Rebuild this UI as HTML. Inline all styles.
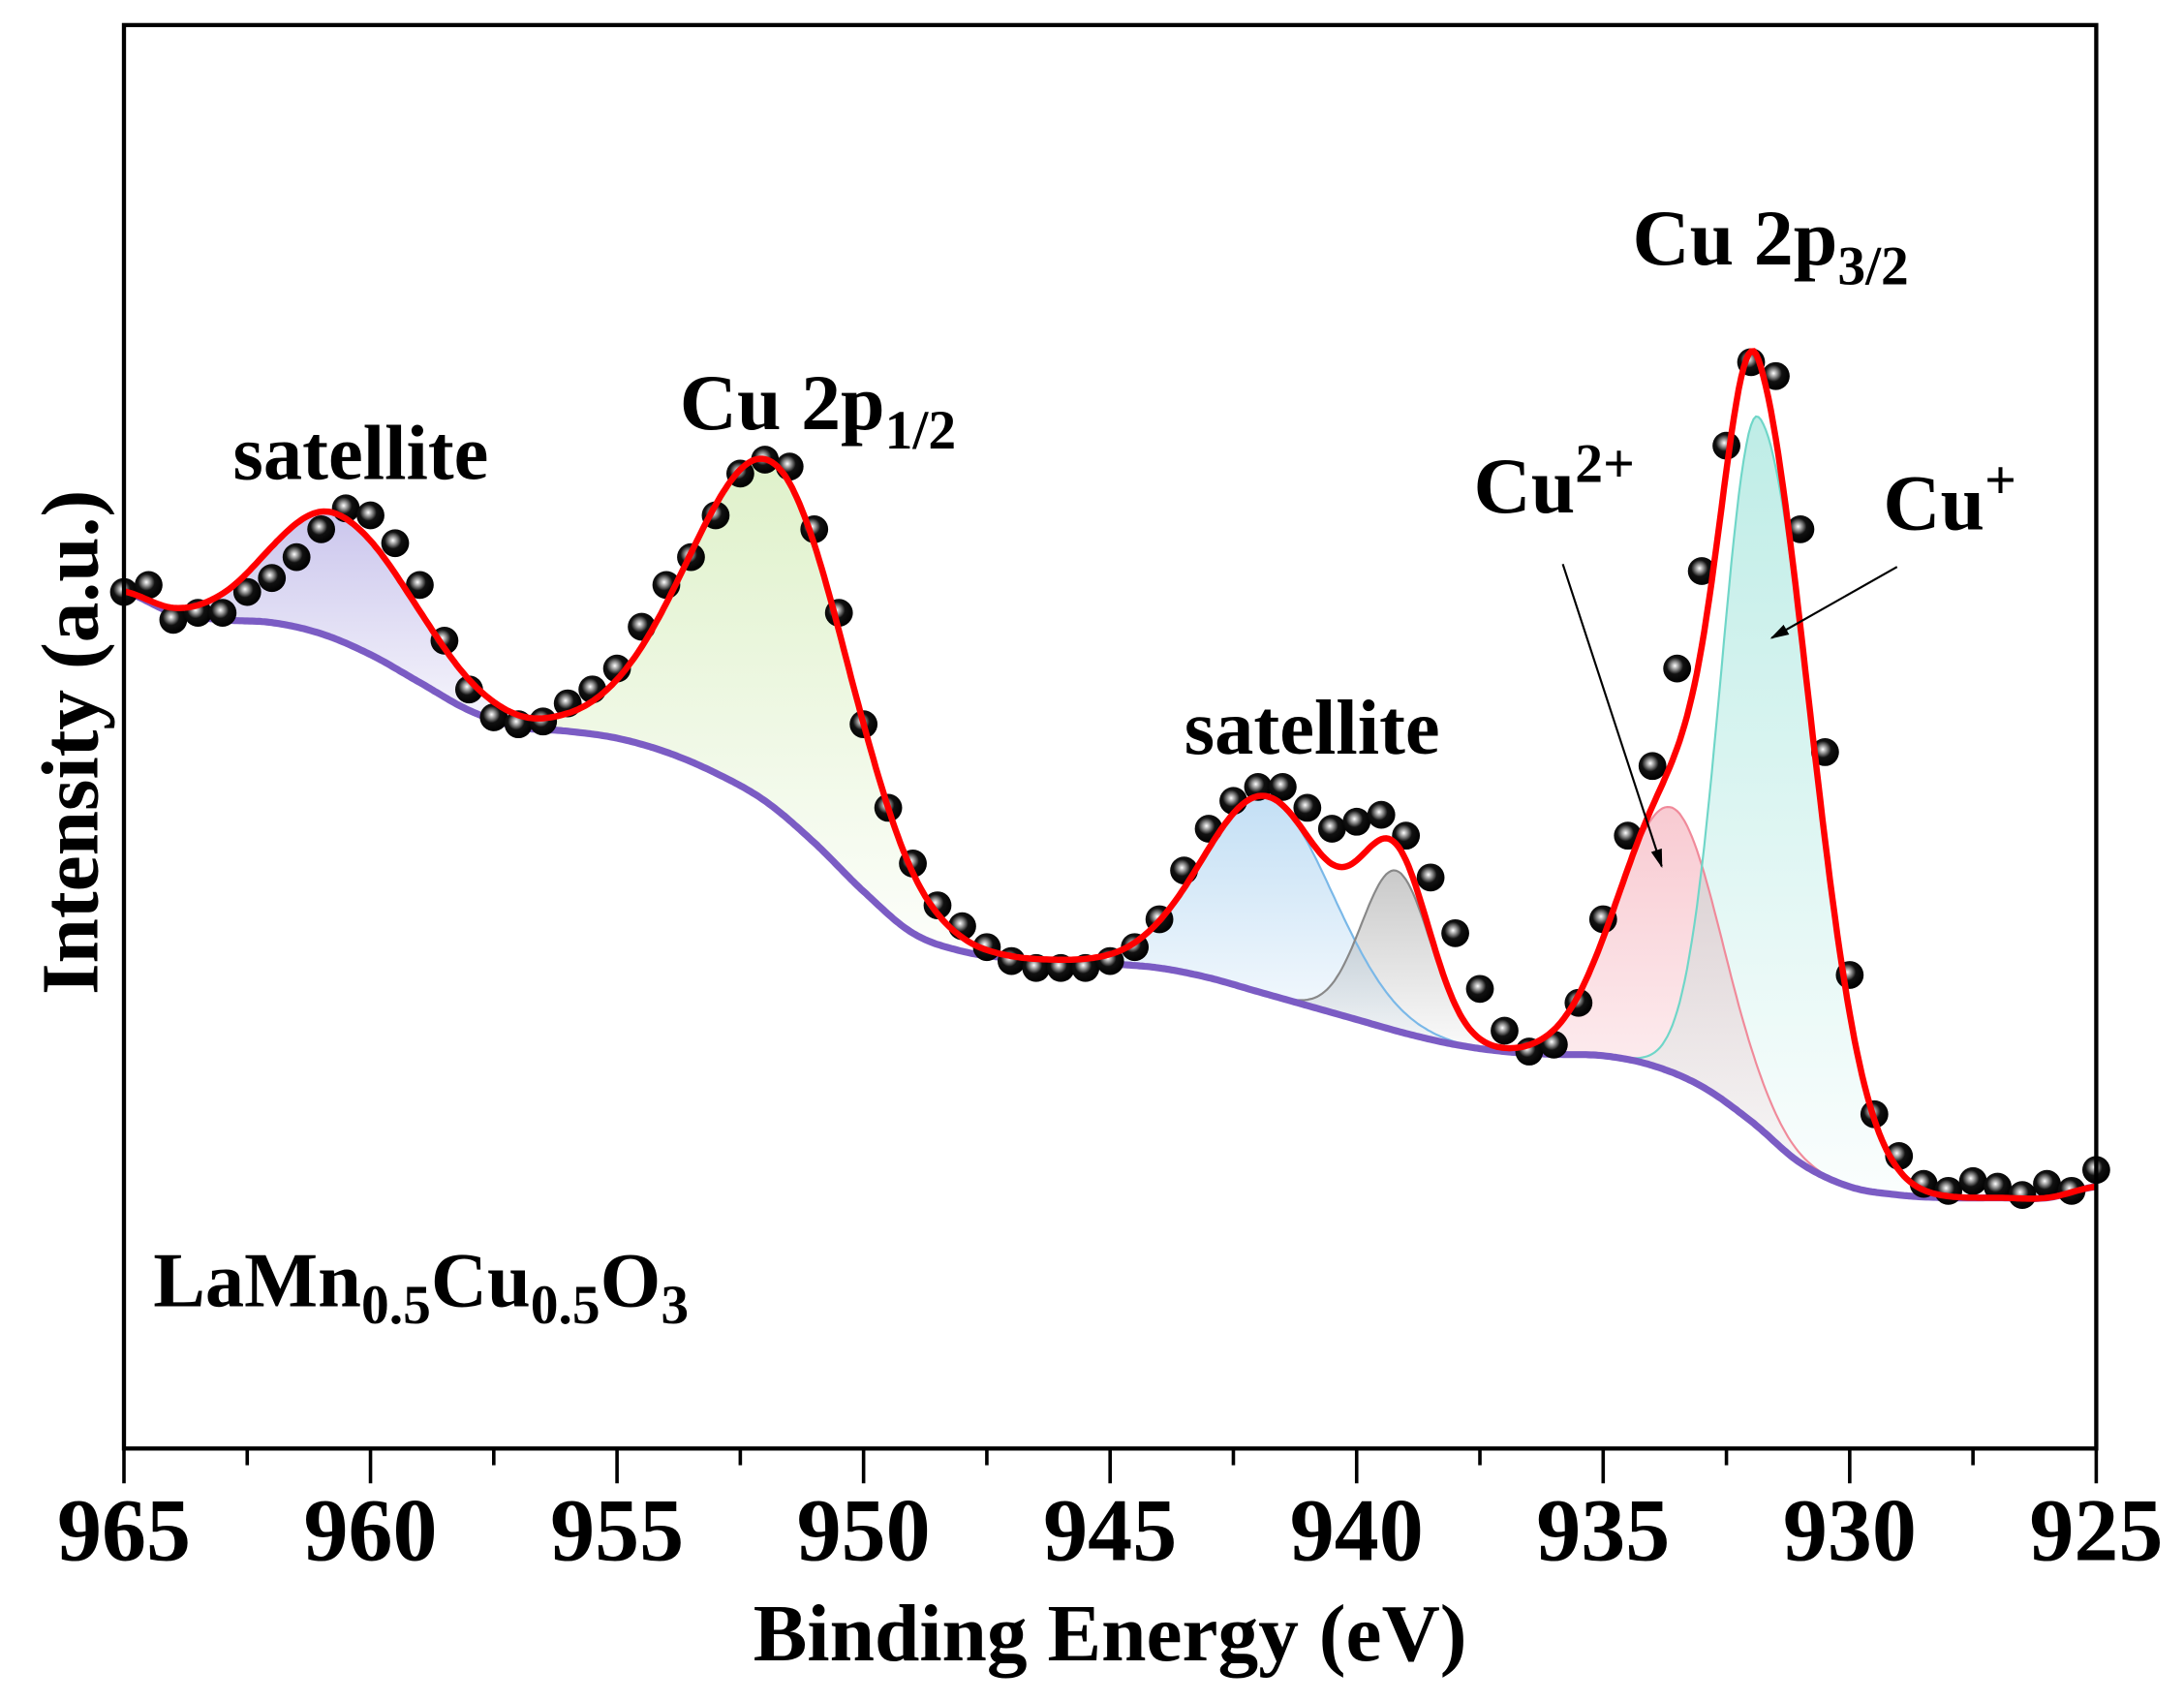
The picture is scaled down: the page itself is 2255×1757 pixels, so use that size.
<!DOCTYPE html>
<html><head><meta charset="utf-8"><style>
html,body{margin:0;padding:0;background:#fff;}
svg{display:block;}
text{font-family:"Liberation Serif",serif;font-weight:bold;fill:#000;}
</style></head><body>
<svg id="chart" width="2255" height="1757" viewBox="0 0 1568 1222" preserveAspectRatio="none" xmlns="http://www.w3.org/2000/svg">
<defs>
<radialGradient id="ball" cx="0.42" cy="0.4" r="0.6">
<stop offset="0" stop-color="#fff"/><stop offset="0.22" stop-color="#999"/><stop offset="0.5" stop-color="#111"/><stop offset="1" stop-color="#000"/>
</radialGradient>
<marker id="arr" viewBox="0 0 10 10" refX="9" refY="5" markerWidth="9" markerHeight="9" orient="auto"><path d="M0,2 L10,5 L0,8 z" fill="#000"/></marker>
</defs>
<g id="fills"></g>
<g id="lines"></g>
<g id="points"></g>
<g id="fit"></g>
<rect x="89" y="18" width="1416" height="1022" fill="none" stroke="#000" stroke-width="3"/>
<g id="axis"></g>
<text x="797" y="1192" font-size="58" text-anchor="middle">Binding Energy (eV)</text>
<text transform="translate(70,533) rotate(-90)" font-size="58" text-anchor="middle">Intensity (a.u.)</text>
<text x="259" y="344" font-size="56" text-anchor="middle">satellite</text>
<text x="488" y="308" font-size="57">Cu 2p<tspan font-size="40" dy="14">1/2</tspan></text>
<text x="942" y="541" font-size="56" text-anchor="middle">satellite</text>
<text x="1172" y="190" font-size="57">Cu 2p<tspan font-size="40" dy="14">3/2</tspan></text>
<text x="1058" y="368" font-size="57">Cu<tspan font-size="40" dy="-22">2+</tspan></text>
<text x="1352" y="380" font-size="57">Cu<tspan font-size="40" dy="-22">+</tspan></text>
<text x="110" y="938" font-size="56">LaMn<tspan font-size="40" dy="12">0.5</tspan><tspan dy="-12">Cu</tspan><tspan font-size="40" dy="12">0.5</tspan><tspan dy="-12">O</tspan><tspan font-size="40" dy="12">3</tspan></text>
<line x1="1122" y1="405" x2="1193" y2="622" stroke="#000" stroke-width="1.5" marker-end="url(#arr)"/>
<line x1="1362" y1="407" x2="1272" y2="458" stroke="#000" stroke-width="1.5" marker-end="url(#arr)"/>
</svg>
<script>
const xTicks=[965,960,955,950,945,940,935,930,925];
const dataStart=965, dataStep=-0.5;
const dataI=[615,620,595,600,600,615,625,640,660,675,670,650,620,580,545,525,520,522,535,545,560,590,620,640,670,700,710,705,660,600,520,460,420,390,375,360,350,345,345,345,350,360,380,415,445,465,475,475,460,445,450,455,440,410,370,330,300,285,290,320,380,440,490,560,630,720,780,770,660,500,340,240,210,190,185,192,188,182,190,185,200];
const bgStart=965, bgStep=-1;
const bgI=[615,600,595,593,585,570,550,530,518,515,510,500,485,465,435,400,370,357,352,350,348,345,338,328,318,308,298,290,285,283,282,275,260,235,205,188,182,180,180,180,188];
const peakNames=['satellite-960','cu2p12','satellite-942','satellite-939','cu2plus','cuplus'];
const peakCenter=[960.7,951.8,941.8,939.2,933.6,931.85];
const peakHeight=[90,247,142,115,190,510];
const peakSigmaL=[1.3,1.7,1.3,0.7,1.1,0.75];
const peakSigmaR=[1.6,1.5,1.3,0.7,1.0,1.1];
const peakColor=['#8a7fd6','#b8e08a','#7ab8e8','#888888','#f08a9a','#6fd6c8'];

const NS='http://www.w3.org/2000/svg';
const X=e=>89+(965-e)*(1416/40);
const Y=v=>1040-v;
function bg(e){
  const f=(bgStart-e)/(-bgStep);let i=Math.floor(f);const n=bgI.length;
  if(i>=n-1)return bgI[n-1]; if(i<0)return bgI[0];
  const t=f-i;const p0=bgI[Math.max(i-1,0)],p1=bgI[i],p2=bgI[i+1],p3=bgI[Math.min(i+2,n-1)];
  return 0.5*((2*p1)+(-p0+p2)*t+(2*p0-5*p1+4*p2-p3)*t*t+(-p0+3*p1-3*p2+p3)*t*t*t);
}
function g(k,e){const s=e>peakCenter[k]?peakSigmaL[k]:peakSigmaR[k];return peakHeight[k]*Math.exp(-((e-peakCenter[k])**2)/(2*s*s));}
const mk=(t,p)=>{const el=document.createElementNS(NS,t);for(const k in p)el.setAttribute(k,p[k]);return el;};
const svg=document.getElementById('chart');
const defs=svg.querySelector('defs');
const fills=document.getElementById('fills'),lines=document.getElementById('lines');
const es=[];for(let e=965;e>=925-1e-9;e-=0.05)es.push(e);
peakNames.forEach((n,k)=>{
  const gid='grad'+k;
  const lg=mk('linearGradient',{id:gid,x1:0,y1:0,x2:0,y2:1});
  lg.appendChild(mk('stop',{offset:0,'stop-color':peakColor[k],'stop-opacity':0.45}));
  lg.appendChild(mk('stop',{offset:1,'stop-color':peakColor[k],'stop-opacity':0.03}));
  defs.appendChild(lg);
  const sel=es.filter(e=>e<peakCenter[k]+4*peakSigmaL[k]&&e>peakCenter[k]-4*peakSigmaR[k]);
  let top=sel.map(e=>X(e).toFixed(1)+','+Y(bg(e)+g(k,e)).toFixed(1));
  let bot=sel.slice().reverse().map(e=>X(e).toFixed(1)+','+Y(bg(e)).toFixed(1));
  const poly=mk('polygon',{points:top.concat(bot).join(' '),fill:'url(#'+gid+')'});
  
  
  fills.appendChild(poly);
  const pl=mk('polyline',{points:top.join(' '),fill:'none',stroke:peakColor[k],'stroke-width':1.5});
  
  
  lines.appendChild(pl);
});
const bgl=mk('polyline',{points:es.map(e=>X(e).toFixed(1)+','+Y(bg(e)).toFixed(1)).join(' '),fill:'none',stroke:'#7b5cc4','stroke-width':5});


lines.appendChild(bgl);
const pts=document.getElementById('points');
dataI.forEach((v,i)=>{
  const e=dataStart+i*dataStep;
  const c=mk('circle',{cx:X(e),cy:Y(v),r:10,fill:'url(#ball)'});
  
  
  pts.appendChild(c);
});
const env=mk('polyline',{points:es.map(e=>{let s=bg(e);for(let k=0;k<peakCenter.length;k++)s+=g(k,e);return X(e).toFixed(1)+','+Y(s).toFixed(1);}).join(' '),fill:'none',stroke:'#ff0000','stroke-width':4.5});


document.getElementById('fit').appendChild(env);
const ax=document.getElementById('axis');
for(let e=965;e>=925;e-=2.5){
  const major=(e%5===0);
  const t=mk('line',{x1:X(e),x2:X(e),y1:1040,y2:1040+(major?25:12),stroke:'#000','stroke-width':2.5});
  
  
  ax.appendChild(t);
}
xTicks.forEach(v=>{
  const t=mk('text',{x:X(v),y:1120,'font-size':64,'text-anchor':'middle'});
  t.textContent=v;
  
  
  ax.appendChild(t);
});
</script>
</body></html>
